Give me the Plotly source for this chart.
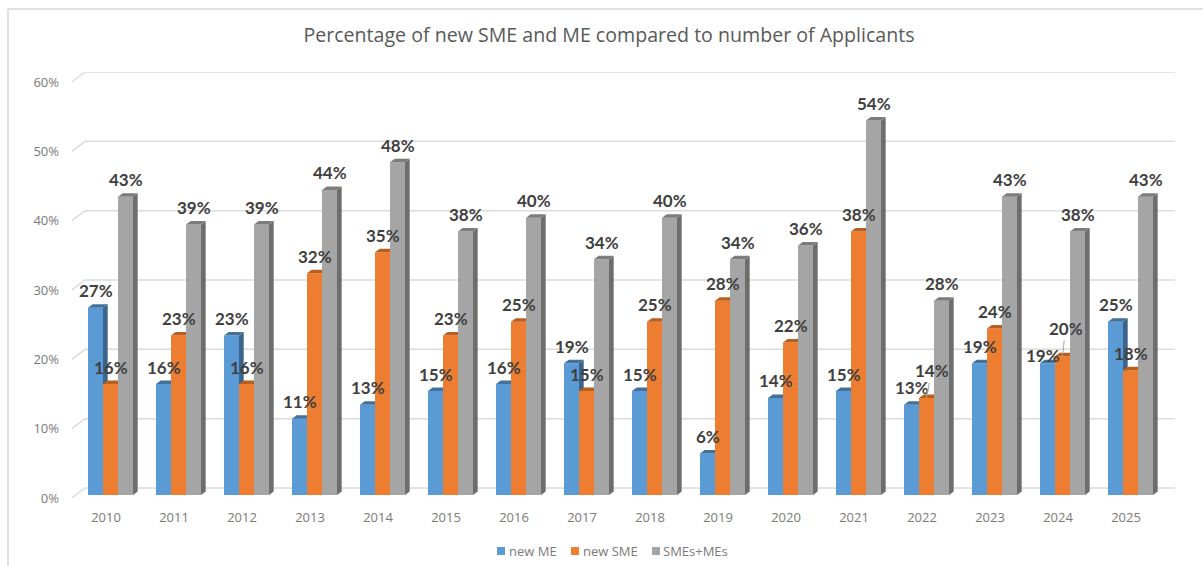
import plotly.graph_objects as go

years = list(range(2010, 2026))
new_me = [27, 16, 23, 11, 13, 15, 16, 19, 15, 6, 14, 15, 13, 19, 19, 25]
new_sme = [16, 23, 16, 32, 35, 23, 25, 15, 25, 28, 22, 38, 14, 24, 20, 18]
smes_mes = [43, 39, 39, 44, 48, 38, 40, 34, 40, 34, 36, 54, 28, 43, 38, 43]
y_ticks = [0, 10, 20, 30, 40, 50, 60]
title = "Percentage of new SME and ME compared to number of Applicants"

FONT = "Open Sans, sans-serif"
LABEL_FONT = "Lato, sans-serif"
W, H = 1203, 566
PL, PR, PT, PB = 72, 1175, 72, 498          # plot rectangle, px
PX_X = 68.0                                 # px per year
PX_Y = 416 / 60                             # px per percentage point
BAR_W = 15 / PX_X
DX, DY = 4.7 / PX_X, 3.5 / PX_Y             # bar depth
BACK_DX, BACK_DY = 13 / PX_X, 10 / PX_Y     # wall depth
x_range = [2009.5, 2009.5 + (PR - PL) / PX_X]
front_range = [0, (PB - PT) / PX_Y]
bar_range = [-3 / PX_Y, (495 - PT) / PX_Y]

series = [
    dict(name="new ME", vals=new_me, off=-18 / PX_X, front="#5B9BD5", side="#3C6489", top="#41719C", y="y2", leg=(497, 509)),
    dict(name="new SME", vals=new_sme, off=-3 / PX_X, front="#ED7D31", side="#A85A22", top="#B85F1F", y="y3", leg=(571, 583)),
    dict(name="SMEs+MEs", vals=smes_mes, off=12 / PX_X, front="#A5A5A5", side="#6E6E6E", top="#7C7C7C", y="y4", leg=(652, 663)),
]

def px_x(p):
    return (p - PL) / (PR - PL)

def px_y(p):
    return (PB - p) / (PB - PT)

fig = go.Figure()

# wall gridlines, front tick -> back wall -> right end
gx, gy = [], []
for t in y_ticks:
    gx += [x_range[0], x_range[0] + BACK_DX, x_range[1], None]
    gy += [t, t + BACK_DY, t + BACK_DY, None]
fig.add_trace(go.Scatter(x=gx, y=gy, mode="lines", line=dict(color="#DCDCDC", width=1.5),
                         showlegend=False, hoverinfo="skip"))

for s in series:
    fig.add_trace(go.Bar(x=years, y=s["vals"], name=s["name"], width=BAR_W, offset=s["off"],
                         marker=dict(color=s["front"], line=dict(width=0)), yaxis=s["y"], showlegend=False))
    sx, sy, tx, ty = [], [], [], []
    for yr, v in zip(years, s["vals"]):
        xl = yr + s["off"]
        xr = xl + BAR_W
        sx += [xr, xr + DX, xr + DX, xr, xr, None]
        sy += [0, DY, v + DY, v, 0, None]
        tx += [xl, xr, xr + DX, xl + DX, xl, None]
        ty += [v, v, v + DY, v + DY, v, None]
    for px, py, col in ((sx, sy, s["side"]), (tx, ty, s["top"])):
        fig.add_trace(go.Scatter(x=px, y=py, mode="lines", fill="toself", fillcolor=col,
                                 line=dict(width=0, color=col), yaxis=s["y"],
                                 showlegend=False, hoverinfo="skip"))

# data labels; a few were dragged away from their bar in the original
moved = {("new ME", 2024): dict(xshift=-5, yshift=8)}
leader = {("new SME", 2022): (5, -27), ("new SME", 2024): (3, -28)}
annotations = []
for s in series:
    for yr, v in zip(years, s["vals"]):
        a = dict(x=yr + s["off"] + BAR_W / 2, y=v, xref="x", yref="y2", text=f"{v}%",
                 font=dict(family=LABEL_FONT, size=17, color="#404040", weight="bold"))
        key = (s["name"], yr)
        if key in leader:
            a.update(showarrow=True, arrowhead=0, arrowwidth=1, arrowcolor="#A6A6A6",
                     ax=leader[key][0], ay=leader[key][1], standoff=0)
        else:
            m = moved.get(key, dict(xshift=0, yshift=17))
            a.update(showarrow=False, xanchor="center", yanchor="middle", **m)
        annotations.append(a)

# legend row
shapes = [
    dict(type="line", xref="paper", yref="paper", x0=px_x(8), x1=px_x(8), y0=px_y(9), y1=px_y(H),
         line=dict(color="#D9D9D9", width=1.5)),
    dict(type="line", xref="paper", yref="paper", x0=px_x(8), x1=px_x(W), y0=px_y(9), y1=px_y(9),
         line=dict(color="#D9D9D9", width=1.5)),
]
for s in series:
    sw, tx0 = s["leg"]
    shapes.append(dict(type="rect", xref="paper", yref="paper", x0=px_x(sw), x1=px_x(sw + 8),
                       y0=px_y(555), y1=px_y(547), fillcolor=s["front"], line=dict(width=0)))
    annotations.append(dict(x=px_x(tx0), y=px_y(551), xref="paper", yref="paper", text=s["name"],
                            showarrow=False, xanchor="left", yanchor="middle", xshift=-2,
                            font=dict(family=FONT, size=13, color="#7A7A7A")))

tick_font = dict(family=FONT, size=13, color="#7A7A7A")
overlay = dict(overlaying="y", range=bar_range, visible=False, fixedrange=True)
fig.update_layout(
    width=W, height=H,
    margin=dict(l=PL, r=W - PR, t=PT, b=H - PB, pad=0, autoexpand=False),
    paper_bgcolor="white", plot_bgcolor="rgba(0,0,0,0)",
    barmode="overlay", showlegend=False,
    title=dict(text=title, x=609 / W, xref="container", xanchor="center",
               y=1 - 35 / H, yref="container", yanchor="middle",
               font=dict(family=FONT, size=19.6, color="#595959")),
    xaxis=dict(range=x_range, tickmode="array", tickvals=years, ticktext=[str(y) for y in years],
               showgrid=False, zeroline=False, showline=False, ticks="", tickfont=tick_font,
               ticklabelstandoff=10, fixedrange=True),
    yaxis=dict(range=front_range, tickmode="array", tickvals=y_ticks, ticktext=[f"{t}%" for t in y_ticks],
               showgrid=False, zeroline=False, showline=False, ticks="", tickfont=tick_font,
               ticklabelstandoff=12, fixedrange=True),
    yaxis2=overlay, yaxis3=overlay, yaxis4=overlay,
    annotations=annotations,
    shapes=shapes,
)

fig.write_html("out.html", post_script="document.body.style.margin='0';",
               config={"displayModeBar": False})
